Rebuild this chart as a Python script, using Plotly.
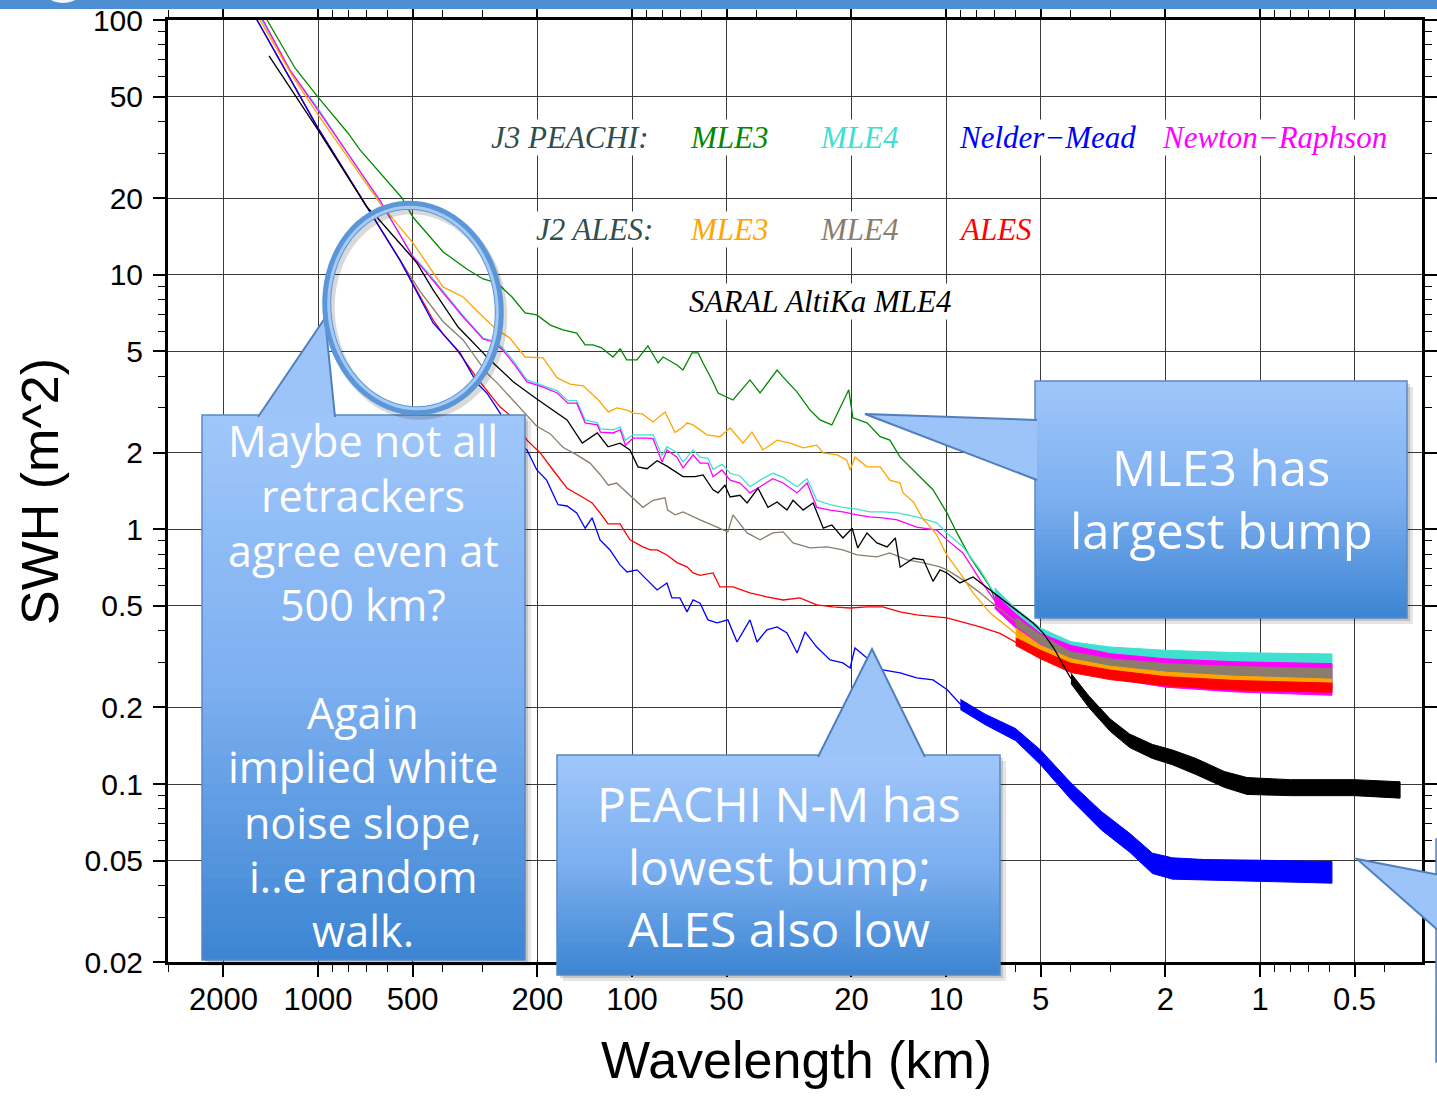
import math
import plotly.graph_objects as go

# ---------------- axis ticks ----------------
x_tick_vals = [2000, 1000, 500, 200, 100, 50, 20, 10, 5, 2, 1, 0.5]
x_tick_text = ["2000", "1000", "500", "200", "100", "50", "20", "10", "5", "2", "1", "0.5"]
x_minor_vals = [3000, 900, 800, 700, 600, 400, 300, 90, 80, 70, 60, 40, 30,
                9, 8, 7, 6, 4, 3, 0.9, 0.8, 0.7, 0.6, 0.4]
y_tick_vals = [100, 50, 20, 10, 5, 2, 1, 0.5, 0.2, 0.1, 0.05, 0.02]
y_tick_text = ["100", "50", "20", "10", "5", "2", "1", "0.5", "0.2", "0.1", "0.05", "0.02"]
y_minor_vals = [90, 80, 70, 60, 40, 30, 9, 8, 7, 6, 4, 3, 0.9, 0.8, 0.7, 0.6, 0.4, 0.3,
                0.09, 0.08, 0.07, 0.06, 0.04, 0.03]

# ---------------- spectra: (wavelength km, SWH spectrum) ----------------
j3_mle3 = [(1650, 128), (1453, 100), (1184, 64.8), (1000, 49.8), (803, 36), (735, 30.9), (540, 20.0),
           (498, 16.8), (400, 12.3), (335, 10.5), (298, 9.62), (269, 9.28), (241, 8.17), (219, 7.07),
           (201, 6.95), (182, 6.34), (166, 6.07), (150, 5.90), (141, 5.30), (133, 5.30), (125, 5.16),
           (115, 4.75), (109, 5.11), (104, 4.63), (96.4, 4.63), (89, 5.25), (82.6, 4.50), (79.6, 4.75),
           (71.9, 4.42), (68.8, 4.22), (64.4, 4.93), (61.6, 4.93), (59.4, 4.50), (55.6, 3.86), (53.2, 3.43),
           (47.7, 3.22), (42.1, 3.86), (39.1, 3.43), (34.5, 4.22), (33.0, 3.96), (29.8, 3.46), (27.1, 2.94),
           (25.2, 2.69), (23.1, 2.57), (21.3, 3.16), (20.4, 3.53), (19.8, 2.74), (17.85, 2.62), (16.2, 2.31),
           (15.1, 2.24), (14.0, 1.92), (12.4, 1.66), (11.0, 1.43), (9.93, 1.16), (9.23, 0.968), (8.39, 0.78),
           (7.24, 0.594), (6.73, 0.47), (5.5, 0.39), (4.5, 0.33), (3.5, 0.30), (2.5, 0.27), (1.5, 0.255),
           (0.59, 0.25)]

j3_mle4 = [(1720, 129), (1510, 100), (1235, 64), (1000, 45), (640, 19.6), (500, 11.9), (450, 10.3),
           (345, 6.9), (298, 5.64), (277, 5.5), (258, 5.16), (239, 4.6), (216, 3.86), (192, 3.66),
           (173, 3.5), (160, 3.2), (150, 3.2), (141, 2.69), (129, 2.62), (126, 2.48), (115, 2.46),
           (109, 2.52), (105, 2.24), (99.3, 2.35), (89.6, 2.35), (85.7, 2.35), (80.2, 1.95), (77.4, 2.11),
           (71.9, 2.0), (68.8, 1.84), (63.9, 2.05), (60.7, 1.92), (57.3, 1.9), (55.2, 1.72), (51.7, 1.8),
           (48.7, 1.66), (45.3, 1.62), (42.1, 1.47), (39.1, 1.56), (35.6, 1.66), (33.0, 1.6), (29.8, 1.47),
           (27.7, 1.58), (25.8, 1.3), (23.4, 1.25), (21.3, 1.22), (19.2, 1.2), (17.5, 1.17), (15.9, 1.17),
           (14.3, 1.16), (12.4, 1.12), (10.7, 1.06), (9.93, 0.968), (8.83, 0.853), (7.79, 0.693),
           (6.88, 0.54), (6.12, 0.47), (5.40, 0.41), (4.77, 0.365), (4.12, 0.345), (3.74, 0.335),
           (2.94, 0.322), (2.04, 0.312), (1.22, 0.305), (0.59, 0.302)]

j3_nm = [(1760, 128), (1564, 100), (1000, 37.6), (698, 18.4), (548, 11.4), (430, 6.46), (353, 4.93),
         (312, 3.76), (290, 3.43), (263, 2.86), (232, 2.18), (216, 2.05), (201, 1.71), (187, 1.56),
         (172, 1.25), (161, 1.235), (150, 1.16), (141, 1.01), (134, 1.11), (126.4, 0.909), (117.5, 0.830),
         (109.2, 0.725), (103.7, 0.680), (96.4, 0.693), (89.6, 0.633), (83.2, 0.578), (77.4, 0.616),
         (74.6, 0.538), (70.4, 0.538), (66.8, 0.474), (63.9, 0.528), (60.7, 0.513), (57.3, 0.441),
         (53.6, 0.429), (49.5, 0.441), (46.3, 0.361), (42.1, 0.441), (40.0, 0.361), (37.2, 0.403),
         (34.5, 0.414), (32.1, 0.392), (29.8, 0.327), (28.1, 0.396), (25.8, 0.345), (23.4, 0.307),
         (21.3, 0.2988), (20.2, 0.2856), (19.5, 0.342), (17.85, 0.3127), (15.9, 0.2805), (14.0, 0.273),
         (12.4, 0.261), (11.0, 0.2563), (9.93, 0.235), (8.83, 0.2008), (7.79, 0.1834), (6.73, 0.1676),
         (5.81, 0.1531), (5.02, 0.1278), (4.12, 0.0974), (3.23, 0.0723), (2.79, 0.066), (2.54, 0.0568),
         (2.24, 0.049), (1.98, 0.0469), (1.55, 0.046), (0.746, 0.0452), (0.59, 0.0448)]

j3_nr = [(1700, 129), (1497, 100), (1228, 63.6), (1000, 44.3), (635, 19.6), (498, 11.7), (450, 10.15),
         (345, 6.82), (298, 5.59), (277, 5.44), (258, 5.06), (239, 4.50), (216, 3.79), (192, 3.62),
         (173, 3.43), (160, 3.13), (150, 3.13), (141, 2.62), (129, 2.57), (126, 2.41), (115, 2.39),
         (109, 2.46), (105, 2.14), (99.3, 2.28), (89.6, 2.28), (85.7, 2.27), (80.2, 1.84), (77.4, 2.05),
         (71.9, 1.92), (68.8, 1.74), (63.9, 1.96), (60.7, 1.82), (57.3, 1.82), (55.2, 1.61), (51.7, 1.71),
         (48.7, 1.56), (45.3, 1.52), (42.1, 1.39), (39.1, 1.47), (35.6, 1.58), (33.0, 1.52), (29.8, 1.39),
         (27.7, 1.52), (25.8, 1.22), (23.4, 1.19), (21.3, 1.17), (19.2, 1.14), (17.5, 1.12), (15.9, 1.11),
         (14.3, 1.09), (12.4, 1.02), (10.7, 0.994), (9.93, 0.909), (8.83, 0.808), (7.79, 0.633),
         (6.88, 0.51), (6.12, 0.445), (5.40, 0.385), (4.77, 0.35), (4.12, 0.33), (3.74, 0.318),
         (2.94, 0.30), (2.04, 0.285), (1.22, 0.275), (0.59, 0.268)]

j2_mle3 = [(1720, 128), (1530, 100), (1200, 59.7), (1000, 42.5), (635, 19.1), (498, 13.3), (400, 8.95),
           (345, 8.17), (298, 6.82), (269, 6.07), (245, 5.64), (219, 4.75), (192, 4.71), (173, 3.93),
           (157.5, 3.72), (143, 3.66), (128, 3.22), (119, 2.89), (111.6, 3.00), (103.7, 2.94), (99.3, 2.86),
           (92.7, 2.84), (87.6, 2.69), (85.7, 2.64), (78.5, 2.89), (72.9, 2.40), (68.8, 2.52), (66.8, 2.62),
           (63.9, 2.57), (60.7, 2.46), (57.7, 2.35), (52.5, 2.31), (48.7, 2.50), (44.3, 2.18), (41.5, 2.41),
           (38.3, 2.05), (34.5, 2.24), (31.4, 2.18), (28.5, 2.09), (25.8, 2.14), (24.6, 1.995), (22.2, 1.96),
           (20.7, 1.87), (20.2, 1.71), (19.5, 1.92), (17.85, 1.76), (16.2, 1.76), (15.1, 1.56), (14.0, 1.52),
           (13.7, 1.39), (12.7, 1.28), (11.8, 1.09), (11.5, 1.06), (10.7, 0.95), (9.93, 0.79), (9.03, 0.674),
           (8.20, 0.563), (7.24, 0.470), (6.39, 0.414), (5.69, 0.37), (4.77, 0.327), (4.12, 0.30),
           (3.74, 0.295), (2.94, 0.2805), (2.54, 0.268), (2.04, 0.2633), (1.22, 0.2516), (0.59, 0.245)]

j2_mle4 = [(1760, 128), (1564, 100), (1000, 37.6), (698, 18.4), (548, 11.4), (473, 8.6), (400, 6.55),
           (345, 5.54), (290, 4.11), (269, 3.76), (239, 3.2), (201, 2.54), (182, 2.37), (166, 2.10),
           (150, 1.96), (136, 1.82), (126, 1.635), (119, 1.49), (112, 1.52), (101.5, 1.36), (92.3, 1.22),
           (85.7, 1.30), (78.5, 1.33), (77.0, 1.19), (72.9, 1.14), (68.8, 1.17), (63.9, 1.12), (60.7, 1.09),
           (53.6, 1.02), (49.5, 0.977), (47.7, 1.14), (43.0, 0.968), (39.1, 0.909), (35.6, 0.968),
           (33.0, 0.977), (30.7, 0.884), (27.1, 0.845), (23.9, 0.853), (21.3, 0.830), (19.2, 0.793),
           (16.6, 0.779), (15.1, 0.808), (13.3, 0.759), (11.8, 0.738), (10.45, 0.712), (9.93, 0.693),
           (8.83, 0.633), (7.79, 0.563), (6.88, 0.496), (6.12, 0.441), (5.40, 0.392), (4.77, 0.358),
           (4.12, 0.3155), (3.74, 0.31), (2.94, 0.2988), (2.54, 0.2856), (2.04, 0.2805), (1.22, 0.273),
           (0.59, 0.263)]

j2_ales = [(1760, 128), (1564, 100), (1000, 37.6), (698, 18.4), (548, 11.4), (430, 6.64), (400, 5.85),
           (361, 5.06), (312, 3.93), (263, 3.02), (245, 2.81), (216, 2.24), (196, 1.995), (178.5, 1.71),
           (161, 1.45), (144, 1.34), (134, 1.27), (126.4, 1.16), (119.2, 1.05), (109.2, 1.05), (101.5, 0.909),
           (92.3, 0.853), (87.6, 0.830), (83.2, 0.830), (79.6, 0.808), (77.4, 0.793), (71.9, 0.74),
           (66.8, 0.712), (63.9, 0.674), (60.7, 0.66), (55.2, 0.674), (52.5, 0.594), (47.7, 0.594),
           (42.1, 0.563), (37.2, 0.543), (33.0, 0.528), (29.2, 0.538), (25.8, 0.505), (22.9, 0.496),
           (20.2, 0.491), (17.85, 0.496), (15.9, 0.496), (14.0, 0.474), (12.4, 0.461), (10.7, 0.453),
           (9.93, 0.449), (7.79, 0.414), (6.73, 0.39), (5.40, 0.335), (4.77, 0.3155), (4.12, 0.29),
           (3.74, 0.283), (3.23, 0.275), (2.94, 0.27), (2.0, 0.253), (1.22, 0.2405), (0.59, 0.2341)]

saral_mle4 = [(1432, 72.3), (1000, 37.0), (698, 18.4), (649, 16.8), (509, 11.95), (484, 11.1), (430, 8.71),
              (358, 6.23), (298, 4.93), (290, 4.75), (239, 3.8), (201, 3.25), (161, 2.69), (144, 2.18),
              (129, 2.39), (119.2, 2.11), (109.2, 2.18), (101.5, 2.05), (95.7, 1.76), (89.6, 1.73),
              (83.2, 1.86), (77.4, 1.77), (68.8, 1.61), (63.0, 1.61), (59.4, 1.635), (55.2, 1.43),
              (53.2, 1.39), (50.6, 1.49), (48.7, 1.34), (45.3, 1.36), (43.0, 1.27), (39.7, 1.45),
              (36.9, 1.22), (34.5, 1.28), (32.1, 1.19), (30.7, 1.30), (28.5, 1.19), (26.5, 1.27),
              (24.6, 1.01), (23.1, 1.04), (21.3, 0.925), (19.9, 1.01), (19.1, 0.845), (17.85, 0.968),
              (16.6, 0.884), (15.4, 0.853), (14.5, 0.925), (14.0, 0.71), (12.7, 0.77), (11.8, 0.759),
              (11.0, 0.625), (10.45, 0.693), (9.93, 0.674), (9.03, 0.616), (8.20, 0.650), (7.24, 0.578),
              (6.59, 0.528), (5.81, 0.470), (5.28, 0.429), (4.91, 0.392), (4.56, 0.345), (4.03, 0.2633),
              (3.56, 0.2139), (3.07, 0.1738), (2.65, 0.149), (2.29, 0.1361), (1.93, 0.1278), (1.71, 0.121),
              (1.52, 0.1136), (1.34, 0.1056), (1.18, 0.0992), (1.0, 0.0974), (0.73, 0.0965), (0.506, 0.0965),
              (0.358, 0.0948)]

# noise envelopes (wavelength, low, high) in the noisy short-wavelength part
j3_mle3_band = [(5.0, 0.34, 0.375), (4.0, 0.295, 0.325), (3.0, 0.27, 0.295), (2.0, 0.25, 0.272),
                (1.2, 0.24, 0.262), (0.59, 0.236, 0.258)]
j3_mle4_band = [(7.0, 0.53, 0.59), (6.0, 0.44, 0.49), (5.0, 0.365, 0.41), (4.0, 0.322, 0.362),
                (3.0, 0.302, 0.345), (2.0, 0.29, 0.335), (1.2, 0.285, 0.328), (0.59, 0.283, 0.324)]
j3_nr_band = [(7.0, 0.49, 0.56), (6.0, 0.41, 0.465), (5.0, 0.335, 0.39), (4.0, 0.29, 0.35),
              (3.0, 0.26, 0.325), (2.0, 0.24, 0.31), (1.2, 0.23, 0.302), (0.59, 0.223, 0.297)]
j2_mle4_band = [(6.0, 0.42, 0.45), (5.0, 0.355, 0.385), (4.0, 0.30, 0.33), (3.0, 0.284, 0.31),
                (2.0, 0.271, 0.297), (1.2, 0.262, 0.289), (0.59, 0.255, 0.284)]
j2_mle3_band = [(6.0, 0.38, 0.41), (5.0, 0.322, 0.35), (4.0, 0.285, 0.31), (3.0, 0.266, 0.29),
                (2.0, 0.252, 0.275), (1.2, 0.243, 0.265), (0.59, 0.237, 0.258)]
j2_ales_band = [(6.0, 0.35, 0.375), (5.0, 0.31, 0.335), (4.0, 0.274, 0.298), (3.0, 0.257, 0.28),
                (2.0, 0.243, 0.264), (1.2, 0.234, 0.255), (0.59, 0.229, 0.249)]
saral_band = [(4.0, 0.248, 0.272), (3.5, 0.199, 0.221), (3.0, 0.161, 0.18), (2.6, 0.139, 0.157),
              (2.2, 0.126, 0.143), (1.9, 0.119, 0.136), (1.6, 0.109, 0.126), (1.3, 0.097, 0.112),
              (1.1, 0.091, 0.106), (0.8, 0.09, 0.104), (0.5, 0.09, 0.104), (0.358, 0.088, 0.102)]
j3_nm_band = [(9.0, 0.196, 0.215), (7.5, 0.171, 0.188), (6.0, 0.148, 0.165), (5.0, 0.119, 0.136),
              (4.0, 0.087, 0.101), (3.2, 0.066, 0.078), (2.6, 0.054, 0.064), (2.2, 0.0445, 0.0535),
              (1.9, 0.0423, 0.0513), (1.5, 0.0418, 0.0505), (1.0, 0.0414, 0.0502), (0.59, 0.0408, 0.0496)]

series = [
    ("J3 PEACHI MLE3", j3_mle3, j3_mle3_band, "#008a00"),
    ("J3 PEACHI MLE4", j3_mle4, j3_mle4_band, "#40E0D0"),
    ("J3 PEACHI Newton-Raphson", j3_nr, j3_nr_band, "#FF00FF"),
    ("J2 ALES MLE4", j2_mle4, j2_mle4_band, "#8B7D6B"),
    ("J2 ALES MLE3", j2_mle3, j2_mle3_band, "#FFA500"),
    ("J2 ALES ALES", j2_ales, j2_ales_band, "#FF0000"),
    ("J3 PEACHI Nelder-Mead", j3_nm, j3_nm_band, "#0000FF"),
    ("SARAL AltiKa MLE4", saral_mle4, saral_band, "#000000"),
]

# ---------------- page geometry ----------------
W, H = 1437, 1096
ML, MR, MT, MB = 168, 15, 20, 134
PW = W - ML - MR
PH = H - MT - MB


def fx(x):
    return (x - ML) / PW


def fy(y):
    return (H - MB - y) / PH


fig = go.Figure()
for name, pts, band, col in series:
    bw = [b[0] for b in band]
    blo = [b[1] for b in band]
    bhi = [b[2] for b in band]
    fig.add_trace(go.Scatter(x=bw + bw[::-1], y=bhi + blo[::-1], fill="toself", fillcolor=col,
                             mode="lines", line=dict(color=col, width=1), hoverinfo="skip",
                             showlegend=False))
    fig.add_trace(go.Scatter(x=[p[0] for p in pts], y=[p[1] for p in pts], mode="lines",
                             line=dict(color=col, width=1.3), name=name, showlegend=False))

axis_common = dict(type="log", showline=True, linewidth=3, linecolor="black", mirror="allticks",
                   ticks="outside", ticklen=12, tickwidth=1.5, tickcolor="black",
                   showgrid=True, gridcolor="#3a3a3a", gridwidth=1.2, zeroline=False)

fig.update_xaxes(range=[3 + 150 / 314, 3 - 1104 / 314], tickmode="array", tickvals=x_tick_vals,
                 ticktext=x_tick_text, ticklabelstandoff=-4,
                 tickfont=dict(family="Liberation Sans, Arial, sans-serif", size=31, color="black"),
                 minor=dict(tickmode="array", tickvals=x_minor_vals, ticks="outside", ticklen=7,
                            tickwidth=1.2, tickcolor="black", showgrid=False),
                 **axis_common)
fig.update_yaxes(range=[math.log10(0.02), 2], tickmode="array", tickvals=y_tick_vals,
                 ticktext=y_tick_text, ticklabelstandoff=4,
                 tickfont=dict(family="Liberation Sans, Arial, sans-serif", size=30, color="black"),
                 minor=dict(tickmode="array", tickvals=y_minor_vals, ticks="outside", ticklen=7,
                            tickwidth=1.2, tickcolor="black", showgrid=False),
                 **axis_common)

shapes = []
annotations = []

# top banner
shapes.append(dict(type="rect", xref="paper", yref="paper", x0=fx(-5), x1=fx(W + 5), y0=fy(9), y1=fy(-5),
                   fillcolor="#4E8FD3", line=dict(width=0), layer="above"))
shapes.append(dict(type="circle", xref="paper", yref="paper", x0=fx(38), x1=fx(88), y0=fy(3), y1=fy(-45),
                   fillcolor="#F2F6FB", line=dict(width=0), layer="above"))


def lerp(c0, c1, t):
    return tuple(int(round(a + (b - a) * t)) for a, b in zip(c0, c1))


TOP = (160, 199, 250)
MID = (124, 175, 240)
BOT = (60, 133, 210)


def grad_color(t):
    if t < 0.5:
        c = lerp(TOP, MID, t / 0.5)
    else:
        c = lerp(MID, BOT, (t - 0.5) / 0.5)
    return "rgb(%d,%d,%d)" % c


def callout(x0, y0, x1, y1, tri):
    for off, a in ((6, 0.10), (3, 0.14)):
        shapes.append(dict(type="rect", xref="paper", yref="paper", x0=fx(x0 + off), x1=fx(x1 + off),
                           y0=fy(y1 + off), y1=fy(y0 + off), fillcolor="rgba(0,0,0,%.2f)" % a,
                           line=dict(width=0), layer="above"))
    n = 40
    for i in range(n):
        ya = y0 + (y1 - y0) * i / n
        yb = y0 + (y1 - y0) * (i + 1) / n + 0.8
        shapes.append(dict(type="rect", xref="paper", yref="paper", x0=fx(x0), x1=fx(x1),
                           y0=fy(min(yb, y1)), y1=fy(ya), fillcolor=grad_color((i + 0.5) / n),
                           line=dict(width=0), layer="above"))
    shapes.append(dict(type="rect", xref="paper", yref="paper", x0=fx(x0), x1=fx(x1), y0=fy(y1), y1=fy(y0),
                       fillcolor="rgba(0,0,0,0)", line=dict(color="#5A88C4", width=1.5), layer="above"))
    if tri:
        p = "M %f,%f L %f,%f L %f,%f" % (fx(tri[0][0]), fy(tri[0][1]), fx(tri[1][0]), fy(tri[1][1]),
                                         fx(tri[2][0]), fy(tri[2][1]))
        shapes.append(dict(type="path", xref="paper", yref="paper", path=p, fillcolor="rgb(157,196,249)",
                           line=dict(color="#4F7FBD", width=2), layer="above"))


callout(202, 415, 525, 960, [(258, 417), (325, 318), (335, 417)])
callout(557, 755, 1000, 975, [(818, 757), (872, 649), (925, 757)])
callout(1035, 381, 1407, 618, [(1037, 420), (865, 414), (1037, 480)])
callout(1436, 839, 1500, 1062, [(1440, 875), (1357, 859), (1440, 932)])

# ellipse highlighting ~500 km
cx, cy, rx, ry, ang = 413, 308, 86, 103, math.radians(-7)


def ellipse_path(cx, cy, rx, ry, ang):
    pts = []
    for k in range(73):
        t = 2 * math.pi * k / 72
        ex, ey = rx * math.cos(t), ry * math.sin(t)
        X = cx + ex * math.cos(ang) - ey * math.sin(ang)
        Y = cy + ex * math.sin(ang) + ey * math.cos(ang)
        pts.append((fx(X), fy(Y)))
    return "M " + " L ".join("%f,%f" % p for p in pts) + " Z"


shapes.append(dict(type="path", xref="paper", yref="paper", path=ellipse_path(cx + 3, cy + 4, rx, ry, ang),
                   line=dict(color="rgba(0,0,0,0.15)", width=10), layer="above"))
shapes.append(dict(type="path", xref="paper", yref="paper", path=ellipse_path(cx, cy, rx, ry, ang),
                   line=dict(color="#5B97D8", width=9), layer="above"))
shapes.append(dict(type="path", xref="paper", yref="paper", path=ellipse_path(cx, cy, rx - 2, ry - 2, ang),
                   line=dict(color="#A7CAF4", width=3), layer="above"))

# legend-like labels
serif = "Liberation Serif, Times New Roman, serif"
legend_labels = [
    ("J3 PEACHI:", 570, 138, "#2F4F4F"), ("MLE3", 729, 138, "#008a00"), ("MLE4", 859, 138, "#40E0D0"),
    ("Nelder\u2212Mead", 1047, 138, "#0000FF"), ("Newton\u2212Raphson", 1274, 138, "#FF00FF"),
    ("J2 ALES:", 594, 230, "#2F4F4F"), ("MLE3", 729, 230, "#FFA500"), ("MLE4", 859, 230, "#8B7D6B"),
    ("ALES", 995, 230, "#FF0000"), ("SARAL AltiKa MLE4", 820, 301, "#000000"),
]
for txt, x, y, col in legend_labels:
    annotations.append(dict(text="<i>%s</i>" % txt, x=fx(x), y=fy(y), xref="paper", yref="paper",
                            xanchor="center", yanchor="middle", showarrow=False, bgcolor="white",
                            borderpad=0, font=dict(family=serif, size=31, color=col)))

# callout texts
sans = "Open Sans, Lato, sans-serif"
left_lines = [("Maybe not all", 440), ("retrackers", 495), ("agree even at", 550), ("500 km?", 604),
              ("Again", 712), ("implied white", 767), ("noise slope,", 822), ("i..e random", 876),
              ("walk.", 930)]
for t, y in left_lines:
    annotations.append(dict(text=t, x=fx(363), y=fy(y), xref="paper", yref="paper", xanchor="center",
                            yanchor="middle", showarrow=False, font=dict(family=sans, size=43, color="white")))
mid_lines = [("PEACHI N-M has", 803), ("lowest bump;", 866), ("ALES also low", 928)]
for t, y in mid_lines:
    annotations.append(dict(text=t, x=fx(779), y=fy(y), xref="paper", yref="paper", xanchor="center",
                            yanchor="middle", showarrow=False, font=dict(family=sans, size=48, color="white")))
right_lines = [("MLE3 has", 467), ("largest bump", 530)]
for t, y in right_lines:
    annotations.append(dict(text=t, x=fx(1221), y=fy(y), xref="paper", yref="paper", xanchor="center",
                            yanchor="middle", showarrow=False, font=dict(family=sans, size=49, color="white")))

# axis titles
annotations.append(dict(text="Wavelength (km)", x=fx(796), y=fy(1060), xref="paper", yref="paper",
                        xanchor="center", yanchor="middle", showarrow=False,
                        font=dict(family="Liberation Sans, Arial, sans-serif", size=52, color="black")))
annotations.append(dict(text="SWH (m^2)", x=fx(40), y=fy(492), xref="paper", yref="paper",
                        xanchor="center", yanchor="middle", showarrow=False, textangle=-90,
                        font=dict(family="Liberation Sans, Arial, sans-serif", size=52, color="black")))

fig.update_layout(width=W, height=H, margin=dict(l=ML, r=MR, t=MT, b=MB, autoexpand=False),
                  paper_bgcolor="white", plot_bgcolor="white", showlegend=False,
                  shapes=shapes, annotations=annotations)

fig.write_html("out.html", config={"displayModeBar": False},
               post_script="document.body.style.margin='0px';document.body.style.padding='0px';")
